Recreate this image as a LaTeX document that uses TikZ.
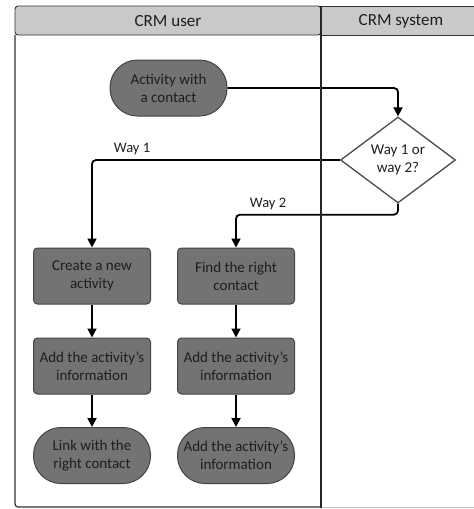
\documentclass[tikz,border=0pt]{standalone}
\usepackage{fontspec}
\setmainfont{Carlito}
\usetikzlibrary{arrows.meta,shapes.geometric}

\definecolor{headgray}{HTML}{C9C9C9}
\definecolor{nodefill}{HTML}{737373}
\definecolor{nodeedge}{HTML}{444444}
\definecolor{inkgray}{HTML}{1E1E1E}

\tikzset{
  lanehead/.style={draw=black!80, fill=headgray, line width=0.9pt},
  laneframe/.style={draw=black!80, line width=1.2pt},
  divider/.style={draw=black!85, line width=2.4pt},
  headtext/.style={font=\fontsize{17}{20}\selectfont, text=inkgray},
  proc/.style={draw=nodeedge, fill=nodefill, line width=1pt, rounded corners=4pt,
    minimum width=117pt, minimum height=56pt, inner sep=1pt, align=center,
    font=\fontsize{15}{18}\selectfont, text=inkgray},
  term/.style={proc, rounded corners=27.5pt},
  decision/.style={diamond, draw=black!70, fill=white, line width=1.3pt,
    minimum width=115pt, minimum height=86pt, inner sep=0pt, align=center,
    font=\fontsize{15}{18}\selectfont, text=inkgray},
  flow/.style={draw=black, line width=1.8pt, rounded corners=4pt,
    -{Triangle[length=9pt,width=9pt]}},
  waylabel/.style={font=\fontsize{14.5}{17}\selectfont, text=inkgray, inner sep=0pt}
}

\begin{document}
\begin{tikzpicture}[x=1pt,y=-1pt]
\useasboundingbox (0,0) rectangle (474,509);

% swimlane headers
\draw[lanehead, rounded corners=3pt] (15,35) |- (321,6) -- (321,35) -- cycle;
\draw[lanehead] (321,6) rectangle (480,35);
\node[headtext] (hu) at (168,21) {CRM user};
\node[headtext] (hs) at (401,21) {CRM system};

% lane frames
\draw[laneframe, rounded corners=3pt] (15,35) -- (15,507) -- (321,507);
\draw[draw=black!25, line width=1pt] (321,507) -- (480,507);

% activity nodes
\node[term] (start) at (168.5,88) {Activity with\\a contact};
\node[decision] (dec) at (398,160) {Way 1 or\\way 2?};

\node[proc] (a1) at (92,276) {Create a new\\activity};
\node[proc] (a2) at (92,366) {Add the activity’s\\information};
\node[term] (a3) at (92,455.5) {Link with the\\right contact};

\node[proc] (b1) at (236,276) {Find the right\\contact};
\node[proc] (b2) at (236,366) {Add the activity’s\\information};
\node[term] (b3) at (236,455.5) {Add the activity’s\\information};

% connectors
\draw[flow] (start.east) -| (dec.north);
\draw[flow] (dec.west) -| (a1.north);
\draw[flow] (dec.south) -- ++(0,11) -| (b1.north);
\draw[flow] (a1) -- (a2);
\draw[flow] (a2) -- (a3);
\draw[flow] (b1) -- (b2);
\draw[flow] (b2) -- (b3);

\node[waylabel] (l1) at (132,149) {Way 1};
\node[waylabel] (l2) at (268,204) {Way 2};

% lane divider
\draw[divider] (321,6) -- (321,508);
\end{tikzpicture}
\end{document}
